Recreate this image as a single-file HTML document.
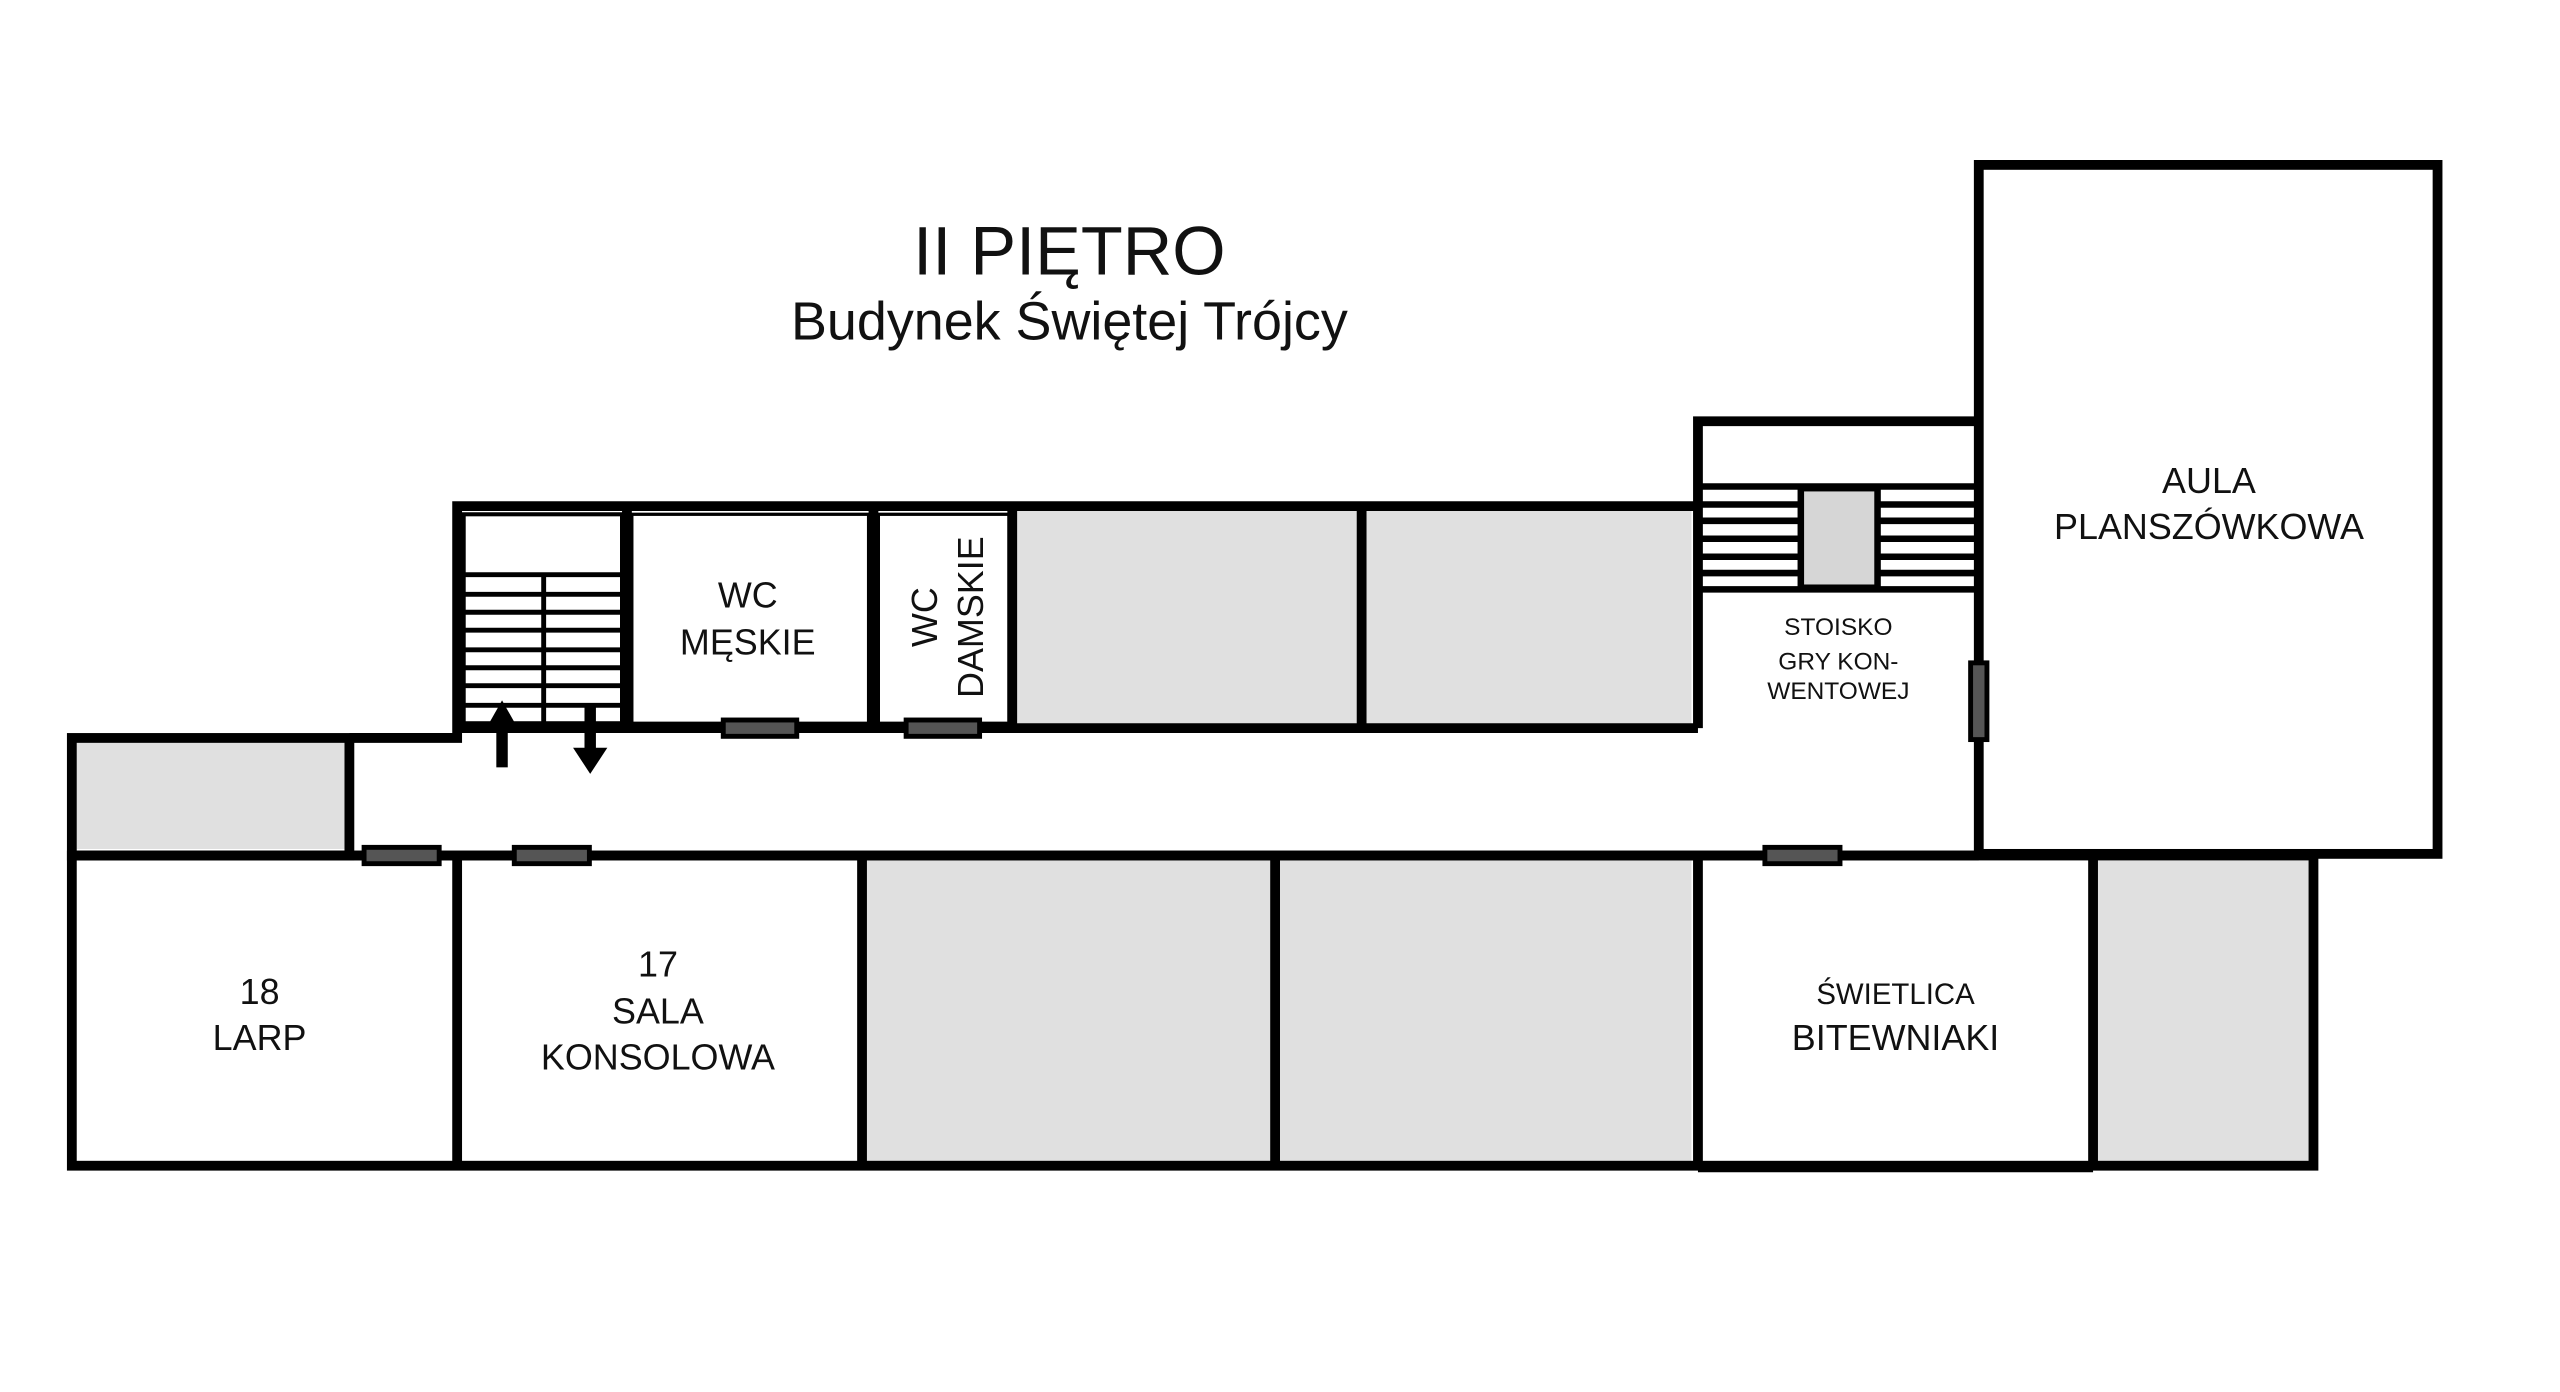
<!DOCTYPE html>
<html><head><meta charset="utf-8"><style>
html,body{margin:0;padding:0;background:#fff;}
svg{display:block;}
text{font-family:"Liberation Sans",sans-serif;fill:#111;text-anchor:middle;}
</style></head><body>
<svg width="2560" height="1392" viewBox="0 0 1568 852.6" preserveAspectRatio="none" xmlns="http://www.w3.org/2000/svg">
<rect width="1568" height="853" fill="#fff"/>
<text x="655" y="168" font-size="42">II PIĘTRO</text>
<text x="655" y="208" font-size="33">Budynek Świętej Trójcy</text>

<g fill="#e0e0e0" stroke="none">
<rect x="47" y="455" width="165" height="65"/>
<rect x="623" y="311" width="209" height="133"/>
<rect x="837" y="311" width="199" height="133"/>
<rect x="531" y="527" width="248" height="186"/>
<rect x="784" y="527" width="252" height="186"/>
<rect x="1284" y="527" width="131" height="186"/>
</g>

<g fill="none" stroke="#000" stroke-width="6">
<rect x="44" y="452" width="170" height="72"/>
<polyline points="214,452 280,452 280,310 1038,310"/>
<line x1="280" y1="446" x2="1040" y2="446"/>
<line x1="384" y1="312" x2="384" y2="446"/>
<line x1="535" y1="312" x2="535" y2="446"/>
<line x1="620" y1="308" x2="620" y2="446"/>
<line x1="834" y1="308" x2="834" y2="446"/>
<polyline points="1040,446 1040,258 1212,258"/>
<rect x="1212" y="101" width="281" height="422"/>
<line x1="44" y1="524" x2="1212" y2="524"/>
<rect x="44" y="524" width="1373" height="190"/>
<line x1="280" y1="524" x2="280" y2="714"/>
<line x1="528" y1="524" x2="528" y2="714"/>
<line x1="781" y1="524" x2="781" y2="714"/>
<line x1="1040" y1="524" x2="1040" y2="716"/>
<line x1="1282" y1="524" x2="1282" y2="716"/>
<line x1="1040" y1="715" x2="1282" y2="715"/>
</g>

<g stroke="#000" stroke-width="3" fill="none">
<rect x="284" y="315" width="97" height="128" stroke-width="2.5"/>
<line x1="284" y1="352" x2="381" y2="352"/>
<line x1="284" y1="364" x2="381" y2="364"/>
<line x1="284" y1="375" x2="381" y2="375"/>
<line x1="284" y1="386" x2="381" y2="386"/>
<line x1="284" y1="398" x2="381" y2="398"/>
<line x1="284" y1="409" x2="381" y2="409"/>
<line x1="284" y1="420" x2="381" y2="420"/>
<line x1="284" y1="432" x2="381" y2="432"/>
<line x1="333" y1="352" x2="333" y2="443"/>
<rect x="387" y="315" width="145" height="128" stroke-width="2"/>
<rect x="538" y="315" width="80" height="128" stroke-width="2"/>
</g>
<g fill="#000">
<rect x="304" y="442" width="7" height="28"/>
<polygon points="299,444 316,444 307.5,429"/>
<rect x="358" y="433" width="7" height="28"/>
<polygon points="351,458 372,458 361.5,474"/>
</g>

<g stroke="#000" stroke-width="4">
<line x1="1040" y1="298" x2="1212" y2="298"/>
<line x1="1040" y1="309" x2="1212" y2="309"/>
<line x1="1040" y1="319" x2="1212" y2="319"/>
<line x1="1040" y1="330" x2="1212" y2="330"/>
<line x1="1040" y1="341" x2="1212" y2="341"/>
<line x1="1040" y1="351" x2="1212" y2="351"/>
<line x1="1040" y1="361" x2="1212" y2="361"/>
</g>
<rect x="1103" y="299" width="47" height="61" fill="#d6d6d6" stroke="#000" stroke-width="4"/>

<g fill="#555" stroke="#000" stroke-width="3">
<rect x="443" y="441" width="45" height="10"/>
<rect x="555" y="441" width="45" height="10"/>
<rect x="223" y="519" width="46" height="10"/>
<rect x="315" y="519" width="46" height="10"/>
<rect x="1081" y="519" width="46" height="10"/>
<rect x="1207" y="406" width="10" height="47"/>
</g>

<text x="458" y="372" font-size="22">WC</text>
<text x="458" y="401" font-size="22">MĘSKIE</text>
<text transform="translate(574,378) rotate(-90)" font-size="22">WC</text>
<text transform="translate(602,378) rotate(-90)" font-size="22">DAMSKIE</text>
<text x="1126" y="389" font-size="15">STOISKO</text>
<text x="1126" y="410" font-size="15">GRY KON-</text>
<text x="1126" y="428" font-size="15">WENTOWEJ</text>
<text x="1353" y="302" font-size="22">AULA</text>
<text x="1353" y="330" font-size="22">PLANSZÓWKOWA</text>
<text x="159" y="615" font-size="22">18</text>
<text x="159" y="643" font-size="22">LARP</text>
<text x="403" y="598" font-size="22">17</text>
<text x="403" y="627" font-size="22">SALA</text>
<text x="403" y="655" font-size="22">KONSOLOWA</text>
<text x="1161" y="615" font-size="18">ŚWIETLICA</text>
<text x="1161" y="643" font-size="22">BITEWNIAKI</text>
</svg>
</body></html>
